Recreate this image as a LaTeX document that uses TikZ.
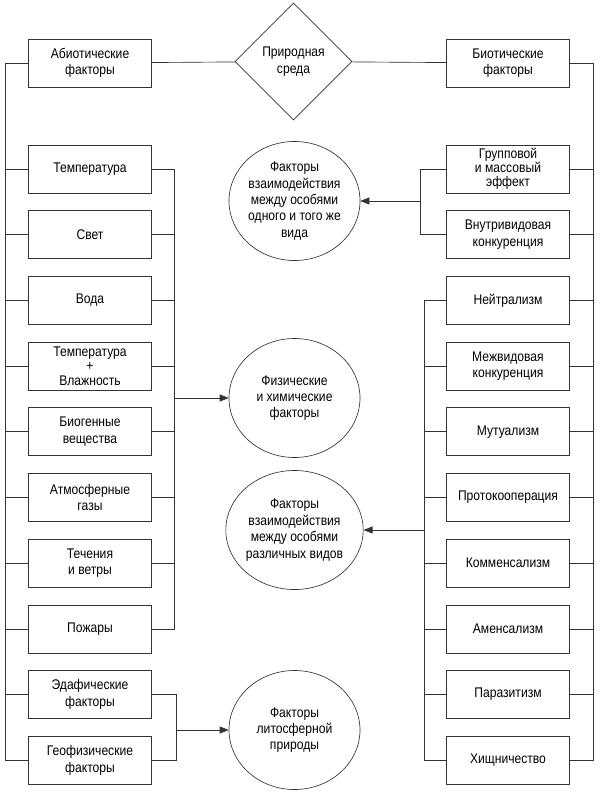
\documentclass[tikz,border=0pt]{standalone}
\usepackage{fontspec}
\setmainfont[FakeStretch=0.865]{Liberation Sans}
\usetikzlibrary{shapes.geometric,arrows.meta}
\begin{document}
\begin{tikzpicture}[x=1pt,y=-1pt,
  font=\fontsize{14}{16.5}\selectfont,
  ln/.style={draw=black!80, line width=0.65pt},
  arr/.style={ln, -{Triangle[length=9pt,width=7pt]}},
  box/.style={ln, rectangle, minimum width=123pt, minimum height=48pt, align=center, inner sep=1pt},
  tribox/.style={box, font=\fontsize{14}{14.2}\selectfont},
  ell/.style={ln, ellipse, minimum width=131pt, minimum height=119pt, align=center, inner sep=0pt, font=\fontsize{14}{16.4}\selectfont},
  dia/.style={ln, diamond, minimum width=117pt, minimum height=117pt, align=center, inner sep=0pt, font=\fontsize{14}{17}\selectfont}
]
\useasboundingbox (0,0) rectangle (601,793);

% top
\node[box] (abio) at (90,63) {Абиотические\\факторы};
\node[dia] (env) at (293.5,61.5) {Природная\\среда};
\node[box] (bio) at (508,63) {Биотические\\факторы};

% left column
\node[box] (L0) at (90,169) {Температура};
\node[box] (L1) at (90,234.7) {Свет};
\node[box] (L2) at (90,300.4) {Вода};
\node[tribox] (L3) at (90,366.1) {Температура\\+\\Влажность};
\node[box] (L4) at (90,431.8) {Биогенные\\вещества};
\node[box] (L5) at (90,497.5) {Атмосферные\\газы};
\node[box] (L6) at (90,563.2) {Течения\\и ветры};
\node[box] (L7) at (90,628.9) {Пожары};
\node[box] (L8) at (90,694.6) {Эдафические\\факторы};
\node[box] (L9) at (90,760.3) {Геофизические\\факторы};

% right column
\node[tribox] (R0) at (508,169) {Групповой\\и массовый\\эффект};
\node[box] (R1) at (508,234.7) {Внутривидовая\\конкуренция};
\node[box] (R2) at (508,300.4) {Нейтрализм};
\node[box] (R3) at (508,366.1) {Межвидовая\\конкуренция};
\node[box] (R4) at (508,431.8) {Мутуализм};
\node[box] (R5) at (508,497.5) {Протокооперация};
\node[box] (R6) at (508,563.2) {Комменсализм};
\node[box] (R7) at (508,628.9) {Аменсализм};
\node[box] (R8) at (508,694.6) {Паразитизм};
\node[box] (R9) at (508,760.3) {Хищничество};

% ellipses
\node[ell] (E1) at (294.5,201) {Факторы\\взаимодействия\\между особями\\одного и того же\\вида};
\node[ell] (E2) at (294.5,398) {Физические\\и химические\\факторы};
\node[ell] (E3) at (294.5,530) {Факторы\\взаимодействия\\между особями\\различных видов};
\node[ell] (E4) at (294.5,730) {Факторы\\литосферной\\природы};

% bus coordinates
\coordinate (lbus) at (5,0);
\coordinate (lin) at (174,0);
\coordinate (lbr) at (176,0);
\coordinate (rbus) at (593,0);
\coordinate (rbr) at (420,0);
\coordinate (rin) at (424,0);

% top connectors
\draw[ln] (abio) -- (env);
\draw[ln] (env) -- (bio);

% left outer bus
\draw[ln] (abio.west) -| (lbus |- L9.west) -- (L9.west);
\foreach \i in {0,...,8} { \draw[ln] (L\i.west) -- (L\i.west -| lbus); }

% left inner bus
\draw[ln] (L0.east) -| (lin |- L7.east) -- (L7.east);
\foreach \i in {1,...,6} { \draw[ln] (L\i.east) -- (L\i.east -| lin); }
\draw[arr] (lin |- E2) -- (E2);

% left bracket
\draw[ln] (L8.east) -| (lbr |- L9.east) -- (L9.east);
\draw[arr] (lbr |- E4) -- (E4);

% right outer bus
\draw[ln] (bio.east) -| (rbus |- R9.east) -- (R9.east);
\foreach \i in {0,...,8} { \draw[ln] (R\i.east) -- (R\i.east -| rbus); }

% right bracket
\draw[ln] (R0.west) -| (rbr |- R1.west) -- (R1.west);
\draw[arr] (rbr |- E1) -- (E1);

% right inner bus
\draw[ln] (R2.west) -| (rin |- R9.west) -- (R9.west);
\foreach \i in {3,...,8} { \draw[ln] (R\i.west) -- (R\i.west -| rin); }
\draw[arr] (rin |- E3) -- (E3);
\end{tikzpicture}
\end{document}
